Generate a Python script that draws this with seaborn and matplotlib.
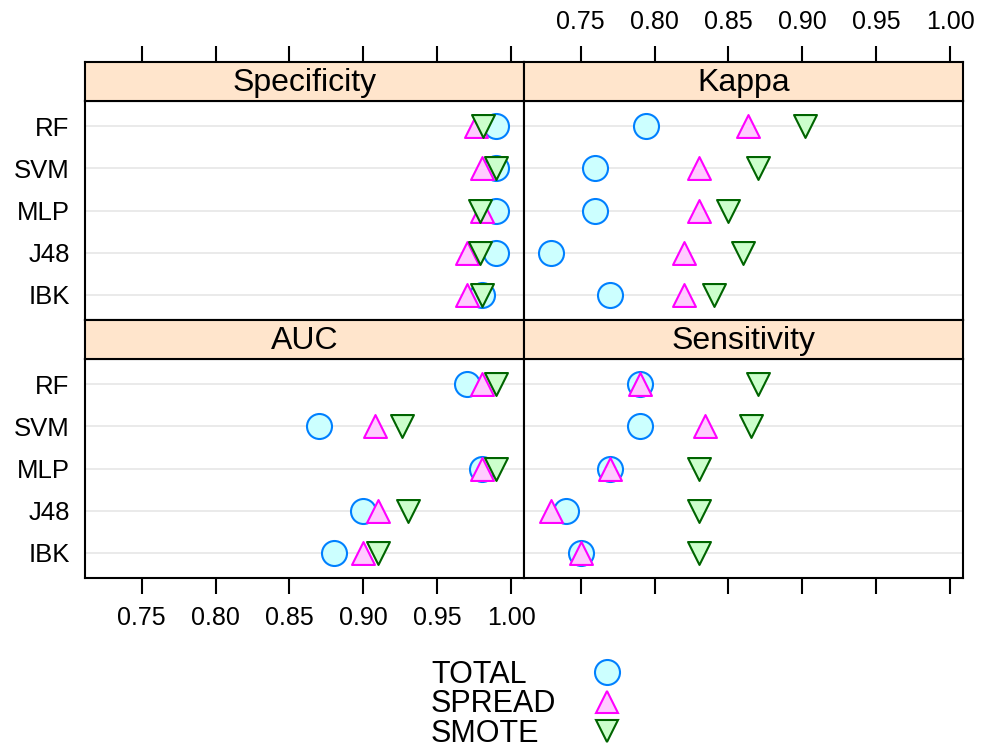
import pandas as pd
import matplotlib.pyplot as plt
import seaborn as sns
from matplotlib.lines import Line2D

sns.set_style('white')
plt.rcParams['font.family'] = ['Liberation Sans', 'DejaVu Sans']
plt.rcParams['text.color'] = 'black'
plt.rcParams['xtick.color'] = 'black'
plt.rcParams['ytick.color'] = 'black'
plt.rcParams['axes.labelcolor'] = 'black'

# models listed bottom to top (lattice puts first level at the bottom)
models = ['IBK', 'J48', 'MLP', 'SVM', 'RF']
methods = ['TOTAL', 'SPREAD', 'SMOTE']

# values in the order of models
specificity_total = [0.98, 0.99, 0.99, 0.99, 0.99]
specificity_spread = [0.97, 0.97, 0.98, 0.98, 0.976]
specificity_smote = [0.98, 0.979, 0.979, 0.99, 0.981]

kappa_total = [0.77, 0.73, 0.76, 0.76, 0.794]
kappa_spread = [0.82, 0.82, 0.83, 0.83, 0.863]
kappa_smote = [0.84, 0.86, 0.85, 0.87, 0.902]

auc_total = [0.88, 0.90, 0.98, 0.87, 0.97]
auc_spread = [0.90, 0.91, 0.98, 0.908, 0.98]
auc_smote = [0.91, 0.93, 0.99, 0.926, 0.99]

sens_total = [0.75, 0.74, 0.77, 0.79, 0.79]
sens_spread = [0.75, 0.73, 0.77, 0.834, 0.79]
sens_smote = [0.83, 0.83, 0.83, 0.865, 0.87]

panel_data = {
    'Specificity': [specificity_total, specificity_spread, specificity_smote],
    'Kappa': [kappa_total, kappa_spread, kappa_smote],
    'AUC': [auc_total, auc_spread, auc_smote],
    'Sensitivity': [sens_total, sens_spread, sens_smote],
}

rows = []
for panel, series in panel_data.items():
    for method, vals in zip(methods, series):
        for model, v in zip(models, vals):
            rows.append({'panel': panel, 'method': method, 'model': model, 'value': v})
df = pd.DataFrame(rows)
df['model'] = pd.Categorical(df['model'], categories=models, ordered=True)

styles = {
    'TOTAL': dict(marker='o', fill='#ccffff', edge='#0080ff', s=324),
    'SPREAD': dict(marker='^', fill='#ffccff', edge='#ff00ff', s=272),
    'SMOTE': dict(marker='v', fill='#ccffcc', edge='#006400', s=272),
}

W, H = 990, 751
fig = plt.figure(figsize=(W / 100, H / 100), dpi=100)

xlim = (0.7117, 1.0086)
xticks = [0.75, 0.80, 0.85, 0.90, 0.95, 1.00]
xticklabels = ['0.75', '0.80', '0.85', '0.90', '0.95', '1.00']

col_x = [85, 524]
col_w = 439
row_panel = [(101, 320), (359, 578)]
row_strip = [(62, 101), (320, 359)]
layout = [['Specificity', 'Kappa'], ['AUC', 'Sensitivity']]


def fig_rect(x0, y0, x1, y1):
    return [x0 / W, 1 - y1 / H, (x1 - x0) / W, (y1 - y0) / H]


tick_kw = dict(length=11.5, width=1.5, direction='out', labelsize=18, pad=9)

for r in range(2):
    for c in range(2):
        name = layout[r][c]
        x0 = col_x[c]
        py0, py1 = row_panel[r]
        sy0, sy1 = row_strip[r]

        ax = fig.add_axes(fig_rect(x0, py0, x0 + col_w, py1))
        sub = df[df['panel'] == name]
        for m in methods:
            st = styles[m]
            sns.scatterplot(data=sub[sub['method'] == m], x='value', y='model',
                            marker=st['marker'], color=st['fill'], edgecolor=st['edge'],
                            s=st['s'], linewidth=1.5, legend=False, ax=ax, zorder=3)
        ax.set_xlim(*xlim)
        ax.set_ylim(-0.6, len(models) - 0.4)
        ax.set_xlabel('')
        ax.set_ylabel('')
        ax.grid(axis='y', color='#e6e6e6', linewidth=1.2)
        ax.grid(axis='x', visible=False)
        ax.set_axisbelow(True)
        for sp in ax.spines.values():
            sp.set_linewidth(1.5)
            sp.set_color('black')
        ax.set_xticks(xticks)
        ax.set_xticklabels(xticklabels)
        if r == 1:
            ax.tick_params(axis='x', bottom=True, labelbottom=(c == 0), **tick_kw)
        else:
            ax.tick_params(axis='x', bottom=False, labelbottom=False)
        ax.tick_params(axis='y', left=False, length=0, labelleft=(c == 0),
                       labelsize=18.5, pad=11)

        sax = fig.add_axes(fig_rect(x0, sy0, x0 + col_w, sy1))
        sax.set_facecolor('#ffe5cc')
        sax.set_xlim(*xlim)
        sax.set_yticks([])
        for sp in sax.spines.values():
            sp.set_linewidth(1.5)
            sp.set_color('black')
        sax.text(0.5, 0.45, name, transform=sax.transAxes, ha='center', va='center',
                 fontsize=23)
        sax.set_xticks(xticks)
        sax.set_xticklabels(xticklabels)
        sax.tick_params(axis='x', bottom=False, labelbottom=False)
        if r == 0:
            sax.tick_params(axis='x', top=True, labeltop=(c == 1), **tick_kw)
        else:
            sax.tick_params(axis='x', top=False, labeltop=False)

# legend: labels on the left, keys in a column on the right
text_handles = [Line2D([], [], linestyle='none') for _ in methods]
fig.legend(text_handles, methods, loc='upper left', bbox_to_anchor=(431 / W, 1 - 660 / H),
           frameon=False, fontsize=22, handlelength=0, handletextpad=0,
           borderpad=0, borderaxespad=0, labelspacing=-0.02)

key_handles = [Line2D([], [], linestyle='none', marker=styles[m]['marker'],
                      markerfacecolor=styles[m]['fill'], markeredgecolor=styles[m]['edge'],
                      markeredgewidth=1.5, markersize=18 if m == 'TOTAL' else 16.5)
               for m in methods]
fig.legend(key_handles, [' '] * 3, loc='upper left', bbox_to_anchor=(592 / W, 1 - 660 / H),
           frameon=False, fontsize=22, handlelength=1, handletextpad=0,
           borderpad=0, borderaxespad=0, labelspacing=-0.02)

fig.savefig('out.png', dpi=100)
